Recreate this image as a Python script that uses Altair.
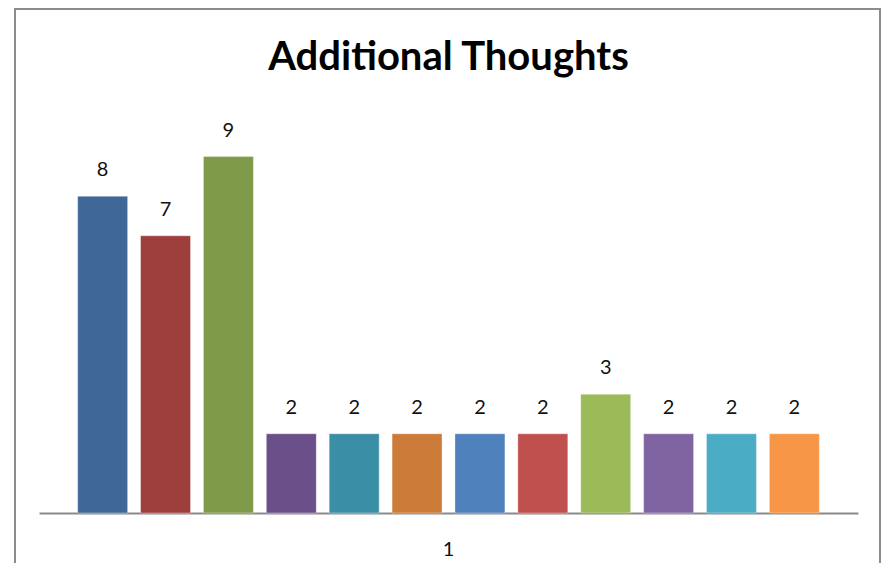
import altair as alt
import pandas as pd

title_text = "Additional Thoughts"
category = "1"
series = ["S1", "S2", "S3", "S4", "S5", "S6", "S7", "S8", "S9", "S10", "S11", "S12"]
values = [8, 7, 9, 2, 2, 2, 2, 2, 3, 2, 2, 2]
colors = ["#3F6898", "#9E3F3C", "#7F9A48", "#6A4F88", "#3A8EA5", "#CC7B38",
          "#4F81BD", "#C0504D", "#9BBB59", "#8064A2", "#4BACC6", "#F79646"]

df = pd.DataFrame({"cat": [category] * len(series), "series": series, "value": values})

W, H = 819, 396

x = alt.X("cat:N", title=None,
          scale=alt.Scale(paddingInner=0, paddingOuter=0),
          axis=alt.Axis(labelAngle=0, ticks=False, domainColor="#8a8a8a", domainWidth=2,
                        labelFont="Lato", labelFontSize=20, labelColor="#111111",
                        labelPadding=26))
xo = alt.XOffset("series:N", sort=series,
                 scale=alt.Scale(paddingInner=0.2056, paddingOuter=0.615))
y = alt.Y("value:Q", scale=alt.Scale(domain=[0, 10]), axis=None)

bars = alt.Chart(df).mark_bar(stroke="white", strokeOpacity=0.35, strokeWidth=1).encode(
    x=x, xOffset=xo, y=y,
    color=alt.Color("series:N", sort=series,
                    scale=alt.Scale(domain=series, range=colors), legend=None),
)

labels = alt.Chart(df).mark_text(baseline="alphabetic", dy=-20, font="Lato",
                                 fontSize=20, color="#111111").encode(
    x=x, xOffset=xo, y=y, text=alt.Text("value:Q"),
)

deco = pd.DataFrame({"t": [title_text]})

title = alt.Chart(deco).mark_text(font="Lato", fontSize=40, fontWeight="bold",
                                  color="#000000", baseline="alphabetic",
                                  align="center").encode(
    x=alt.value(W / 2), y=alt.value(-47), text="t:N"
)

frame = alt.Chart(deco).mark_rect(
    fill=None, stroke="#8c8c8c", strokeWidth=2, clip=False
).encode(
    x=alt.value(-24), x2=alt.value(841), y=alt.value(-108), y2=alt.value(448)
)

chart = alt.layer(bars, labels, title, frame).properties(
    width=W, height=H,
    background="white",
    autosize=alt.AutoSizeParams(type="none"),
    padding={"left": 31, "top": 109, "right": 23, "bottom": 50},
).configure_view(strokeWidth=0)

chart.save("out.html", embed_options={"renderer": "svg", "actions": False})
